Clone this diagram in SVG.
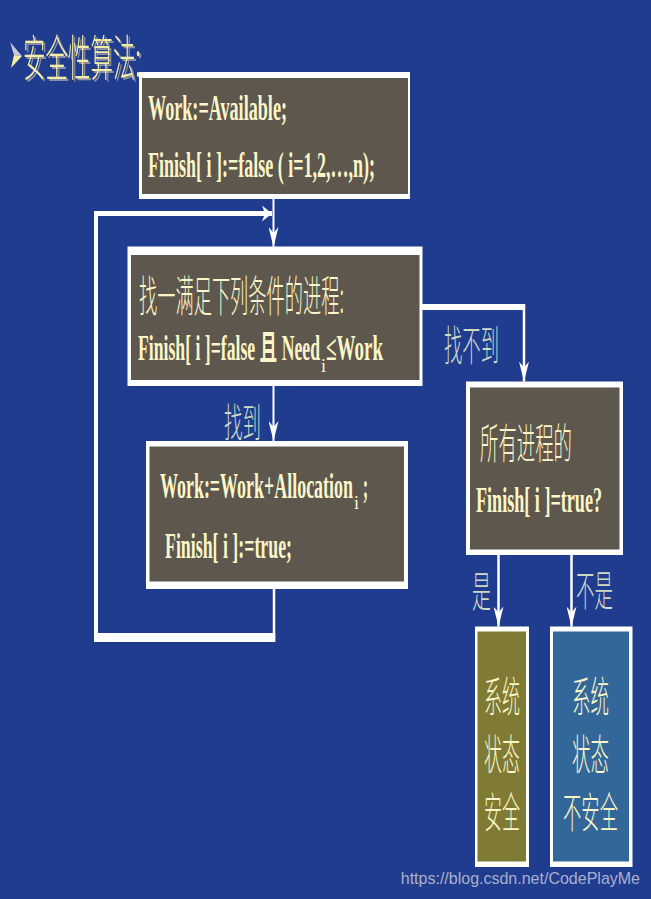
<svg xmlns="http://www.w3.org/2000/svg" width="651" height="899" viewBox="0 0 651 899">
<defs>
<style>
.bg{fill:#1f3c8f}
.frame{fill:#ffffff}
.brown{fill:#5e574d}
.olive{fill:#7f7b34}
.steel{fill:#336799}
.t{font-family:"Liberation Serif","Noto Sans CJK SC",serif;font-size:35px;font-weight:bold;fill:#fbf6c9}
.sub{font-family:"Liberation Serif",serif;font-size:18px;fill:#fbf6c9}
.c{font-family:"Noto Sans CJK SC",sans-serif;font-size:42px;font-weight:300;fill:#fbf6c9}
.lbl{font-family:"Noto Sans CJK SC",sans-serif;font-size:42px;font-weight:300;fill:#cfdac4}
.wire{stroke:#ffffff;fill:none}
.arr{marker-end:url(#ah)}
</style>
<marker id="ah" markerUnits="userSpaceOnUse" viewBox="0 0 20 10" markerWidth="20" markerHeight="10" refX="20" refY="5" orient="auto">
<path d="M0,0 L20,5 L0,10 L6,5 Z" fill="#ffffff"/>
</marker>
<marker id="ah2" markerUnits="userSpaceOnUse" viewBox="0 0 10 16" markerWidth="10" markerHeight="16" refX="10" refY="8" orient="auto">
<path d="M0,0 L10,8 L0,16 L3,8 Z" fill="#ffffff"/>
</marker>
<filter id="sh" x="-10%" y="-10%" width="130%" height="130%">
<feDropShadow dx="2" dy="2" stdDeviation="0.3" flood-color="#8c8ca4" flood-opacity="1"/>
</filter>
</defs>
<rect class="bg" x="0" y="0" width="651" height="899"/>

<g id="title">
<polygon points="10,42 22,56 14,55" fill="#c8c8dc"/>
<polygon points="14,55 22,56 11,68" fill="#f3eea6"/>
<text x="23" y="76" class="c" style="font-size:49px;fill:#f3eea6" filter="url(#sh)" textLength="118" lengthAdjust="spacingAndGlyphs">安全性算法:</text>
</g>

<g id="connectors">
<line class="wire arr" x1="273.5" y1="199" x2="273.5" y2="247" stroke-width="2"/>
<line class="wire arr" x1="273.5" y1="386" x2="273.5" y2="441" stroke-width="2"/>
<polyline class="wire" points="422,307 524,307" stroke-width="6"/>
<line class="wire arr" x1="524" y1="304" x2="524" y2="381.5" stroke-width="2.5"/>
<line class="wire arr" x1="498.5" y1="555" x2="498.5" y2="626.5" stroke-width="2.5"/>
<line class="wire arr" x1="571.5" y1="555" x2="571.5" y2="626.5" stroke-width="2.5"/>
<line class="wire" x1="274" y1="589" x2="274" y2="642" stroke-width="2.5"/>
<line class="wire" x1="94" y1="637.5" x2="275.2" y2="637.5" stroke-width="9"/>
<line class="wire" x1="96" y1="642" x2="96" y2="211" stroke-width="4"/>
<line class="wire" x1="94" y1="213.5" x2="272" y2="213.5" stroke-width="5" marker-end="url(#ah2)"/>
</g>

<g id="init">
<rect class="frame" x="139" y="72" width="271" height="127"/>
<rect class="brown" x="142" y="78" width="266" height="116"/>
<text class="t" x="148" y="120" textLength="139" lengthAdjust="spacingAndGlyphs">Work:=Available;</text>
<text class="t" x="148" y="177" textLength="227" lengthAdjust="spacingAndGlyphs">Finish[ i ]:=false ( i=1,2,…,n);</text>
</g>

<g id="find">
<rect class="frame" x="127.5" y="246.5" width="295" height="139.5"/>
<rect class="brown" x="131" y="255" width="288.5" height="125"/>
<text class="c" x="139" y="312" style="font-size:43px" textLength="205" lengthAdjust="spacingAndGlyphs">找一满足下列条件的进程:</text>
<text class="t" x="138" y="360" textLength="182" lengthAdjust="spacingAndGlyphs">Finish[ i ]=false 且 Need</text>
<text class="sub" x="321" y="372">i</text>
<text class="t" x="326" y="360" textLength="57" lengthAdjust="spacingAndGlyphs">≤Work</text>
</g>

<g id="update">
<rect class="frame" x="146" y="441" width="262" height="148"/>
<rect class="brown" x="149.5" y="446.5" width="254.5" height="135"/>
<text class="t" x="160" y="498" textLength="193" lengthAdjust="spacingAndGlyphs">Work:=Work+Allocation</text>
<text class="sub" x="354" y="509">i</text>
<text class="t" x="363" y="498" textLength="5" lengthAdjust="spacingAndGlyphs">;</text>
<text class="t" x="165" y="558" textLength="127" lengthAdjust="spacingAndGlyphs">Finish[ i ]:=true;</text>
</g>

<g id="check">
<rect class="frame" x="466" y="381.5" width="157" height="173.5"/>
<rect class="brown" x="470" y="387.5" width="149.5" height="162"/>
<text class="c" x="480" y="459" textLength="92" lengthAdjust="spacingAndGlyphs">所有进程的</text>
<text class="t" x="476" y="511.5" textLength="126" lengthAdjust="spacingAndGlyphs">Finish[ i ]=true?</text>
</g>

<g id="safe">
<rect class="frame" x="475" y="626.5" width="54" height="240.5"/>
<rect class="olive" x="477.5" y="631.5" width="48.5" height="230"/>
<text class="c" x="484" y="712" textLength="36" lengthAdjust="spacingAndGlyphs">系统</text>
<text class="c" x="484" y="770" textLength="36" lengthAdjust="spacingAndGlyphs">状态</text>
<text class="c" x="484" y="828" textLength="36" lengthAdjust="spacingAndGlyphs">安全</text>
</g>

<g id="unsafe">
<rect class="frame" x="550" y="626.5" width="82.5" height="240.5"/>
<rect class="steel" x="553" y="631.5" width="76" height="230"/>
<text class="c" x="572" y="712" textLength="37" lengthAdjust="spacingAndGlyphs">系统</text>
<text class="c" x="572" y="770" textLength="37" lengthAdjust="spacingAndGlyphs">状态</text>
<text class="c" x="563" y="828" textLength="55" lengthAdjust="spacingAndGlyphs">不安全</text>
</g>

<g id="labels">
<text class="lbl" x="224" y="437" style="font-size:40px" textLength="37" lengthAdjust="spacingAndGlyphs">找到</text>
<text class="lbl" x="444" y="361" textLength="55" lengthAdjust="spacingAndGlyphs">找不到</text>
<text class="lbl" x="472" y="607" textLength="19" lengthAdjust="spacingAndGlyphs">是</text>
<text class="lbl" x="576" y="606" textLength="37" lengthAdjust="spacingAndGlyphs">不是</text>
</g>

<text x="640" y="884" text-anchor="end" style="font-family:'Liberation Sans',Arial,sans-serif;font-size:16px;fill:#aab0cc">https://blog.csdn.net/CodePlayMe</text>
</svg>
